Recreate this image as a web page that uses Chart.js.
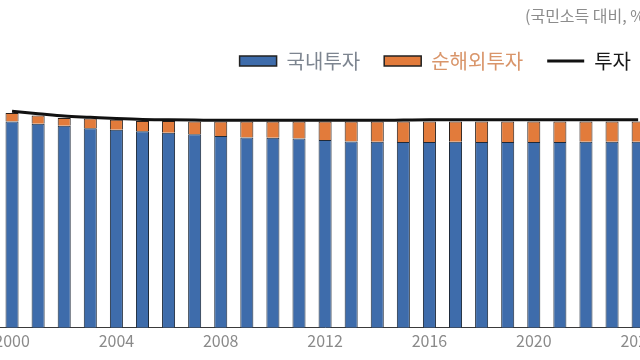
<!DOCTYPE html>
<html>
<head>
<meta charset="utf-8">
<script src="https://cdn.jsdelivr.net/npm/chart.js@4.4.1/dist/chart.umd.min.js"></script>
<style>
  html, body { margin: 0; padding: 0; background: #ffffff; overflow: hidden; width: 640px; height: 360px; }
  #wrap { position: absolute; left: -20px; top: 0; width: 680px; height: 360px; }
  #unit { position: absolute; left: 525px; top: 3px; font: 16px "Noto Sans CJK KR", sans-serif; color: #8c8c8c; white-space: nowrap; }
</style>
</head>
<body>
<div id="wrap"><canvas id="c" width="680" height="360"></canvas></div>
<div id="unit">(국민소득 대비, %)</div>
<script>
const years = ['2000','2001','2002','2003','2004','2005','2006','2007','2008','2009','2010','2011','2012','2013','2014','2015','2016','2017','2018','2019','2020','2021','2022','2023','2024'];
const domestic = [34.1,33.75,33.4,33.0,32.75,32.5,32.25,32.0,31.7,31.45,31.4,31.3,31.05,30.8,30.75,30.7,30.7,30.75,30.7,30.7,30.7,30.7,30.75,30.75,30.75];
const netForeign = [1.4,1.35,1.3,1.6,1.65,1.7,1.95,2.1,2.4,2.65,2.7,2.8,3.05,3.3,3.35,3.4,3.4,3.35,3.4,3.4,3.4,3.4,3.35,3.35,3.35];
const investment = [35.8,35.4,35.0,34.8,34.6,34.45,34.4,34.35,34.3,34.3,34.3,34.3,34.3,34.3,34.3,34.35,34.4,34.4,34.4,34.4,34.4,34.4,34.4,34.4,34.4];
const legendColors = ['#7d8590', '#d9956a', '#1a1a1a'];

const ctx = document.getElementById('c');
new Chart(ctx, {
  data: {
    labels: years,
    datasets: [
      { type: 'line', label: '투자', data: investment, borderColor: '#111111', backgroundColor: '#111111', borderWidth: 3, pointRadius: 0, tension: 0.4, cubicInterpolationMode: 'monotone', order: 0, pointStyle: 'line' },
      { type: 'bar', label: '국내투자', data: domestic, backgroundColor: '#3e6cab', borderColor: '#1e2a3a', borderWidth: 1, stack: 's', order: 1, barPercentage: 0.5, categoryPercentage: 1.0, pointStyle: 'rect' },
      { type: 'bar', label: '순해외투자', data: netForeign, backgroundColor: '#e27b3b', borderColor: '#2a1f1a', borderWidth: 1, stack: 's', order: 1, barPercentage: 0.5, categoryPercentage: 1.0, pointStyle: 'rect' }
    ]
  },
  options: {
    responsive: false,
    animation: false,
    events: [],
    layout: { padding: { left: 19, right: 5, top: 27, bottom: 5 } },
    plugins: {
      tooltip: { enabled: false },
      title: { display: false },
      legend: {
        position: 'top',
        align: 'end',
        labels: {
          usePointStyle: true,
          pointStyleWidth: 37,
          boxHeight: 10,
          padding: 24,
          font: { family: '"Noto Sans CJK KR", sans-serif', size: 20 },
          generateLabels: (chart) => {
            const order = [1, 2, 0];
            return order.map((di, k) => {
              const ds = chart.data.datasets[di];
              return {
                text: ds.label,
                datasetIndex: di,
                fillStyle: ds.backgroundColor,
                strokeStyle: di === 0 ? '#111111' : '#222222',
                lineWidth: di === 0 ? 3 : 1.5,
                pointStyle: ds.pointStyle,
                fontColor: legendColors[k],
                hidden: false
              };
            });
          }
        }
      }
    },
    scales: {
      x: {
        stacked: true,
        grid: { display: false, drawTicks: false },
        border: { display: true, color: '#3a3a3a', width: 1 },
        ticks: {
          autoSkip: false,
          maxRotation: 0,
          padding: 4,
          color: '#8a8a8a',
          font: { family: '"Noto Sans CJK KR", sans-serif', size: 16 },
          callback: function(v, i) { return (i % 4 === 0) ? years[i] : ''; }
        }
      },
      y: {
        stacked: true,
        display: false,
        min: 0,
        max: 40.8
      }
    }
  }
});
</script>
</body>
</html>
